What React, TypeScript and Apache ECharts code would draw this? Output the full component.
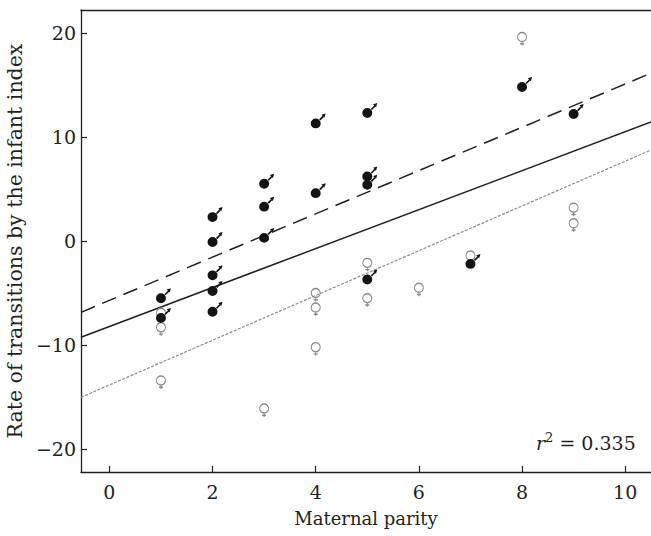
import React, { useEffect, useRef } from "react";
import * as echarts from "echarts";

// ---- data ----
const maleParity = [1, 1, 2, 2, 2, 2, 2, 3, 3, 3, 4, 4, 5, 5, 5, 5, 7, 8, 9];
const maleRate = [-5.5, -7.4, 2.3, -0.1, -3.3, -4.8, -6.8, 5.5, 3.3, 0.3, 11.3, 4.6, 12.3, 6.2, 5.4, -3.7, -2.2, 14.8, 12.2];

const femaleParity = [1, 1, 1, 3, 4, 4, 4, 5, 5, 6, 7, 8, 9, 9];
const femaleRate = [-6.9, -8.3, -13.4, -16.1, -5.0, -6.4, -10.2, -2.1, -5.5, -4.5, -1.4, 19.6, 3.2, 1.7];

// regression lines: males (dashed), all (solid), females (dotted grey)
const lineNames = ["Males", "All", "Females"];
const lineSlopes = [2.08, 1.872, 2.151];
const lineIntercepts = [-5.71, -8.22, -13.84];

const xTicks = [0, 2, 4, 6, 8, 10];
const yTicks = [-20, -10, 0, 10, 20];
const rSquared = "0.335";

const X_MIN = -0.55;
const X_MAX = 10.5;
const Y_MIN = -22.2;
const Y_MAX = 22.2;

const FONT = "DejaVu Serif";
const INK = "#231f20";
const GREY = "#8a8a8a";

const MALE_PATH =
  "path://M0,20A10,10 0 1,0 20,20A10,10 0 1,0 0,20Z M19.2,14.2L26.2,7.2L23.8,4.8L16.8,11.8Z M30,0L27.5,8.5L21.5,2.5Z";
const FEMALE_PATH =
  "path://M0,9A9,9 0 1,0 18,9A9,9 0 1,0 0,9Z M9,18L9,26 M5,22.5L13,22.5";

export default function App() {
  const ref = useRef<HTMLDivElement>(null);

  useEffect(() => {
    if (!ref.current) return;
    const chart = echarts.init(ref.current, null, { renderer: "svg" });

    const lineStyles: any[] = [
      { color: INK, width: 1.5, type: [15, 8] },
      { color: INK, width: 1.5, type: "solid" },
      { color: GREY, width: 1.2, type: [3, 1.5] },
    ];

    const lineSeries = lineNames.map((name, i) => ({
      name,
      type: "line",
      symbol: "none",
      silent: true,
      z: 1,
      data: [
        [X_MIN, lineIntercepts[i] + lineSlopes[i] * X_MIN],
        [X_MAX, lineIntercepts[i] + lineSlopes[i] * X_MAX],
      ],
      lineStyle: lineStyles[i],
    }));

    const option: any = {
      animation: false,
      grid: {
        left: 81,
        top: 10,
        right: 0,
        bottom: 64,
        containLabel: false,
        outerBoundsMode: "none",
      },
      xAxis: [
        {
          type: "value",
          min: X_MIN,
          max: X_MAX,
          splitNumber: 5,
          position: "bottom",
          name: "Maternal parity",
          nameLocation: "middle",
          nameGap: 37,
          nameTextStyle: { fontFamily: FONT, fontSize: 18, color: INK },
          axisLine: { show: true, onZero: false, lineStyle: { color: INK, width: 1.3 } },
          axisTick: {
            show: true,
            inside: true,
            length: 6,
            lineStyle: { color: INK, width: 1.2 },
            customValues: xTicks,
          },
          axisLabel: {
            fontFamily: FONT,
            fontSize: 19,
            color: INK,
            margin: 10,
            customValues: xTicks,
            formatter: (v: number) => String(v),
          },
          splitLine: { show: false },
        },
        {
          type: "value",
          min: X_MIN,
          max: X_MAX,
          position: "top",
          axisLine: { show: true, onZero: false, lineStyle: { color: INK, width: 1.3 } },
          axisTick: { show: false },
          axisLabel: { show: false },
          splitLine: { show: false },
        },
      ],
      yAxis: {
        type: "value",
        min: Y_MIN,
        max: Y_MAX,
        splitNumber: 4,
        name: "Rate of transitions by the infant index",
        nameLocation: "middle",
        nameGap: 51,
        nameTextStyle: { fontFamily: FONT, fontSize: 20.5, color: INK },
        axisLine: { show: true, onZero: false, lineStyle: { color: INK, width: 1.3 } },
        axisTick: {
          show: true,
          inside: true,
          length: 6,
          lineStyle: { color: INK, width: 1.2 },
          customValues: yTicks,
        },
        axisLabel: {
          fontFamily: FONT,
          fontSize: 19,
          color: INK,
          margin: 5,
          customValues: yTicks,
          formatter: (v: number) => (v < 0 ? "\u2212" + Math.abs(v) : String(v)),
        },
        splitLine: { show: false },
      },
      series: [
        ...lineSeries,
        {
          name: "Female",
          type: "scatter",
          z: 3,
          symbol: FEMALE_PATH,
          symbolSize: [9, 13],
          symbolOffset: [0, 2],
          itemStyle: { color: "rgba(0,0,0,0)", borderColor: GREY, borderWidth: 1.2, opacity: 1 },
          data: femaleParity.map((x, i) => [x, femaleRate[i]]),
        },
        {
          name: "Male",
          type: "scatter",
          z: 4,
          symbol: MALE_PATH,
          symbolSize: [15, 15],
          symbolOffset: [2.5, -2.5],
          itemStyle: { color: "#141414", opacity: 1 },
          data: maleParity.map((x, i) => [x, maleRate[i]]),
        },
      ],
      graphic: [
        {
          type: "text",
          left: 536,
          top: 431,
          style: {
            text: "{i|r}{s|2}{n| = " + rSquared + "}",
            rich: {
              i: { fontFamily: FONT, fontSize: 19, fontStyle: "italic", fill: INK, lineHeight: 24 },
              s: { fontFamily: FONT, fontSize: 13, fill: INK, verticalAlign: "top", lineHeight: 16 },
              n: { fontFamily: FONT, fontSize: 19, fill: INK, lineHeight: 24 },
            },
          },
        },
      ],
    };

    chart.setOption(option);
    return () => chart.dispose();
  }, []);

  return (
    <div
      ref={ref}
      style={{ position: "absolute", left: 0, top: 0, width: 651, height: 536 }}
    />
  );
}
